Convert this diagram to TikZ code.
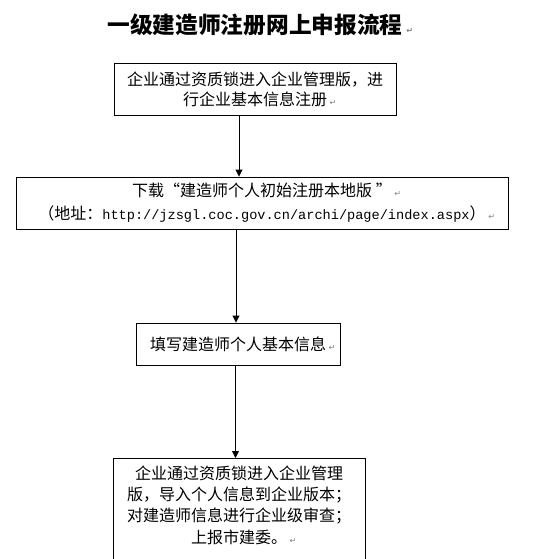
\documentclass[tikz,border=0pt]{standalone}
\usepackage{fontspec}
\setmainfont{Noto Sans CJK SC}
\newfontfamily\monof{Liberation Mono}
\newfontfamily\symf{DejaVu Sans}
\usetikzlibrary{arrows.meta}
\newcommand{\parmk}{\rlap{\,{\symf\fontsize{8}{8}\selectfont\color{gray}↵}}}
\begin{document}
\begin{tikzpicture}[x=1pt,y=-1pt,
  box/.style={draw,line width=0.9pt,inner sep=0pt,align=center,font=\fontsize{16}{20}\selectfont},
  arr/.style={line width=0.9pt,-{Triangle[length=7pt,width=7pt]}}]
\useasboundingbox (0,0) rectangle (545,559);
\clip (0,0) rectangle (545,559);
\fill[white] (0,0) rectangle (545,559);
\node[font=\bfseries\fontsize{22.7}{26}\selectfont] (title) at (255,25) {一级建造师注册网上申报流程\parmk};
\node[box,minimum width=282pt,minimum height=52pt] (b1) at (255,89)
  {企业通过资质锁进入企业管理版，进\\行企业基本信息注册\parmk};
\node[box,minimum width=492pt,minimum height=52pt,font=\fontsize{16}{23}\selectfont] (b2) at (262,203)
  {下载“建造师个人初始注册本地版 ”\parmk\\（地址：{\monof\fontsize{13.6}{23}\selectfont http://jzsgl.coc.gov.cn/archi/page/index.aspx}）\parmk};
\node[box,minimum width=204pt,minimum height=42pt] (b3) at (238,344) {填写建造师个人基本信息\parmk};
\node[draw,line width=0.9pt,minimum width=252pt,minimum height=160pt,anchor=north] (b4) at (239,458) {};
\node[align=center,font=\fontsize{16}{21.3}\selectfont] (t4) at (239,505)
  {企业通过资质锁进入企业管理\\版，导入个人信息到企业版本；\\对建造师信息进行企业级审查；\\上报市建委。\parmk};
\coordinate (x1) at (239,0);
\coordinate (x2) at (236,0);
\coordinate (x3) at (235.5,0);
\draw[arr] (b1.south -| x1) -- (b2.north -| x1);
\draw[arr] (b2.south -| x2) -- (b3.north -| x2);
\draw[arr] (b3.south -| x3) -- (b4.north -| x3);
\end{tikzpicture}
\end{document}
